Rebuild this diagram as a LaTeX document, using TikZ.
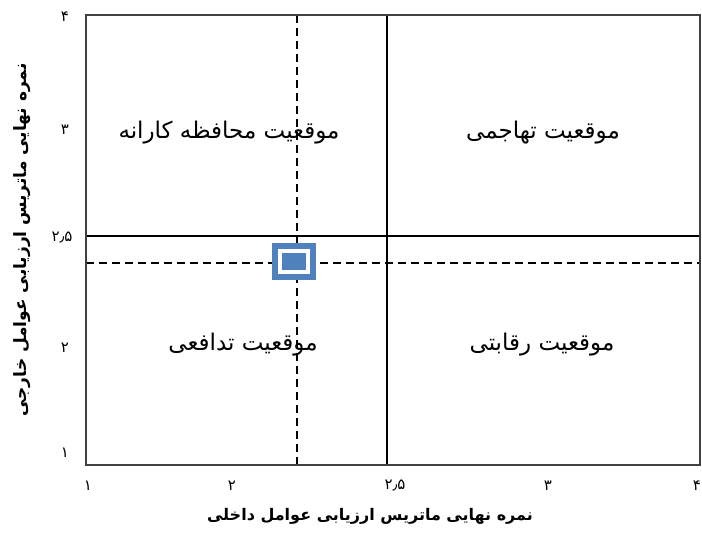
\documentclass[tikz,border=0pt]{standalone}
\usepackage{fontspec}
\usepackage{tikz}
\usetikzlibrary{positioning}
\TeXXeTstate=1
\newfontfamily\arabicfont[Script=Arabic]{DejaVu Sans}
\definecolor{mblue}{RGB}{79,129,189}

\begin{document}
\begin{tikzpicture}[x=0.5pt,y=-0.5pt,
  frame/.style={draw=black!75,line width=1pt},
  divider/.style={line width=0.7pt},
  guide/.style={line width=0.6pt,dash pattern=on 4pt off 2.5pt},
  quadlabel/.style={font=\arabicfont\fontsize{11.5}{13}\selectfont},
  ticklabel/.style={font=\arabicfont\fontsize{7.5}{9}\selectfont},
  axislabel/.style={font=\arabicfont\bfseries\fontsize{8}{10}\selectfont},
  marker/.style={rectangle,inner sep=0pt,minimum width=14pt,minimum height=10.5pt,fill=mblue,draw=mblue,line width=3pt,double=white,double distance=2pt}]
\useasboundingbox (0,0) rectangle (702,534);

\coordinate (nw) at (86,15);
\coordinate (se) at (700,465);
\coordinate (midtop) at (387,15);
\coordinate (midbot) at (387,465);
\coordinate (midleft) at (86,236);
\coordinate (midright) at (700,236);
\coordinate (postop) at (297,15);
\coordinate (posbot) at (297,465);
\coordinate (posleft) at (86,263);
\coordinate (posright) at (700,263);

\draw [divider] (midtop) -- (midbot);
\draw [divider] (midleft) -- (midright);
\draw [guide] (postop) -- (posbot);
\draw [guide] (posleft) -- (posright);
\draw [frame] (nw) rectangle (se);

\node (pos) [marker] at (294,262) {};

\node (conservative) [quadlabel] at (229,133) {\beginR موقعیت محافظه کارانه\endR};
\node (aggressive) [quadlabel] at (543,133) {\beginR موقعیت تهاجمی\endR};
\node (defensive) [quadlabel] at (243,345) {\beginR موقعیت تدافعی\endR};
\node (competitive) [quadlabel] at (542,345) {\beginR موقعیت رقابتی\endR};

\node (y4) [ticklabel] at (65,17) {۴};
\node (y3) [ticklabel] at (65,130) {۳};
\node (y25) [ticklabel] at (62,238) {\beginR ۲٫۵\endR};
\node (y2) [ticklabel] at (65,348) {۲};
\node (y1) [ticklabel] at (65,453) {۱};

\node (x1) [ticklabel] at (88,486) {۱};
\node (x2) [ticklabel] at (232,486) {۲};
\node (x25) [ticklabel] at (395,486) {\beginR ۲٫۵\endR};
\node (x3) [ticklabel] at (548,486) {۳};
\node (x4) [ticklabel] at (697,486) {۴};

\node (xtitle) [axislabel] at (370,516) {\beginR نمره نهایی ماتریس ارزیابی عوامل داخلی\endR};
\node (ytitle) [axislabel,font=\arabicfont\bfseries\fontsize{8.5}{10}\selectfont,rotate=90] at (22,240) {\beginR نمره نهایی ماتریس ارزیابی عوامل خارجی\endR};
\end{tikzpicture}
\end{document}
